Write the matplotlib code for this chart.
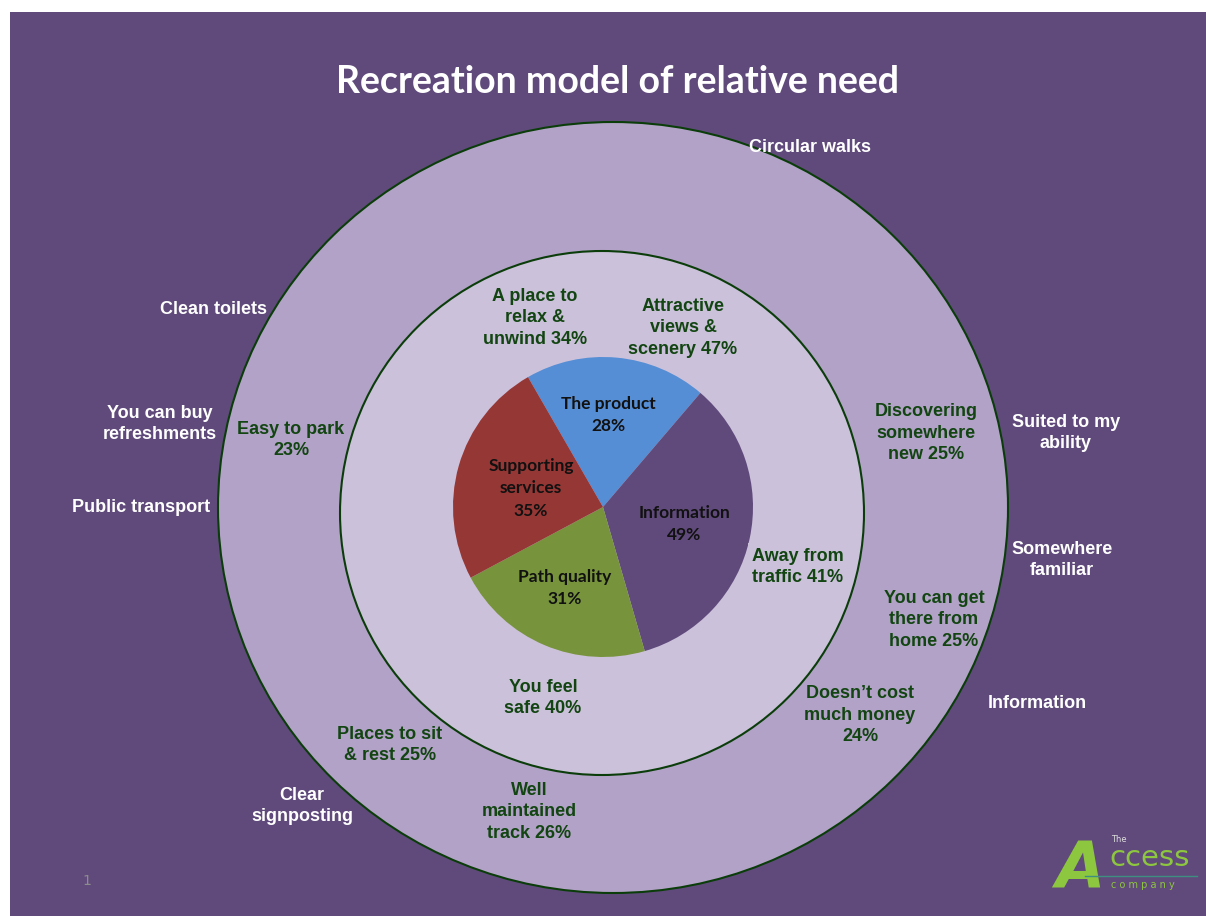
""" recreation model of relative need - nested circles with a pie in the middle """

import matplotlib.pyplot as plt
from matplotlib.patches import Ellipse, Rectangle

W, H = 1206, 916

# pie data
pie_labels = ['The product', 'Information', 'Path quality', 'Supporting\nservices']
pie_values = [28, 49, 31, 35]
pie_colors = ['#558ED5', '#604A7B', '#77933C', '#953735']

# inner ring labels (closest needs)
inner_labels = ['A place to\nrelax &\nunwind 34%', 'Attractive\nviews &\nscenery 47%',
                'Away from\ntraffic 41%', 'You feel\nsafe 40%']
# outer ring labels
ring_labels = ['Easy to park\n23%', 'Discovering\nsomewhere\nnew 25%',
               'You can get\nthere from\nhome 25%', 'Doesn\u2019t cost\nmuch money\n24%',
               'Places to sit\n& rest 25%', 'Well\nmaintained\ntrack 26%']
# outside labels
outside_labels = ['Circular walks', 'Clean toilets', 'You can buy\nrefreshments',
                  'Public transport', 'Clear\nsignposting', 'Suited to my\nability',
                  'Somewhere\nfamiliar', 'Information']

bg = '#604A7B'
green_txt = '#124512'

fig = plt.figure(figsize=(W / 100, H / 100), dpi=100, facecolor='white')
ax = fig.add_axes([0, 0, 1, 1])

# slide background
ax.add_patch(Rectangle((10, 0), W - 10, H - 12, facecolor=bg, edgecolor='none', zorder=0))

# rings
ax.add_patch(Ellipse((613, H - 507.5), 790, 771, facecolor='#B3A2C7',
                     edgecolor='#0B3D0B', lw=1.5, zorder=1))
ax.add_patch(Ellipse((602, H - 513), 524, 524, facecolor='#CCC1DA',
                     edgecolor='#0B3D0B', lw=1.5, zorder=2))

# central pie
wedges, _ = ax.pie(pie_values, colors=pie_colors, startangle=120, counterclock=False,
                   center=(603, H - 507), radius=150, wedgeprops=dict(linewidth=0))
for w in wedges:
    w.set_zorder(3)

pie_pos = [(608, 415), (684, 524), (565, 588), (531, 488)]
for lab, v, (x, y) in zip(pie_labels, pie_values, pie_pos):
    ax.text(x, H - y, f'{lab}\n{v}%', ha='center', va='center', fontsize=12.5,
            fontweight='bold', family='Lato', color='#111111', linespacing=1.5, zorder=5)

inner_pos = [(535, 318), (683, 328), (798, 567), (543, 698)]
for lab, (x, y) in zip(inner_labels, inner_pos):
    bb = None
    if lab.startswith('Away'):
        bb = dict(boxstyle='square,pad=0.25', facecolor='#CCC1DA', edgecolor='none')
    ax.text(x, H - y, lab, ha='center', va='center', fontsize=13, fontweight='bold',
            family='Liberation Sans', color=green_txt, linespacing=1.38, zorder=5, bbox=bb)

ring_pos = [(291, 440), (926, 433), (934, 620), (860, 715), (390, 745), (529, 812)]
for lab, (x, y) in zip(ring_labels, ring_pos):
    ax.text(x, H - y, lab, ha='center', va='center', fontsize=13, fontweight='bold',
            family='Liberation Sans', color=green_txt, linespacing=1.38, zorder=5)

outside_pos = [(810, 148), (213, 309), (160, 424), (141, 508), (302, 806),
               (1066, 433), (1062, 560), (1037, 704)]
for lab, (x, y) in zip(outside_labels, outside_pos):
    ax.text(x, H - y, lab, ha='center', va='center', fontsize=13, fontweight='bold',
            family='Liberation Sans', color='white', linespacing=1.38, zorder=5)

# title
ax.text(617, H - 82, 'Recreation model of relative need', ha='center', va='center',
        fontsize=27, fontweight='bold', family='Lato', color='white', zorder=5)

# slide number
ax.text(87, H - 881, '1', ha='center', va='center', fontsize=10, color='#8C8C8C', zorder=5)

# logo
lime = '#8DC63F'
ax.text(1080, H - 870, 'A', ha='center', va='center', fontsize=46, fontweight='bold',
        style='italic', family='DejaVu Sans', color=lime, zorder=5)
ax.text(1109, H - 858, 'ccess', ha='left', va='center', fontsize=21, family='DejaVu Sans',
        color=lime, zorder=5)
ax.text(1111, H - 840, 'The', ha='left', va='center', fontsize=6, color='#DDDDDD', zorder=5)
ax.plot([1085, 1197], [H - 876, H - 876], color='#3F8F80', lw=1, zorder=5)
ax.text(1111, H - 885, 'c o m p a n y', ha='left', va='center', fontsize=7,
        family='DejaVu Sans', color=lime, zorder=5)

ax.set_xlim(0, W)
ax.set_ylim(0, H)
ax.set_aspect('auto')
ax.axis('off')

fig.savefig('out.png', dpi=100, facecolor='white')
